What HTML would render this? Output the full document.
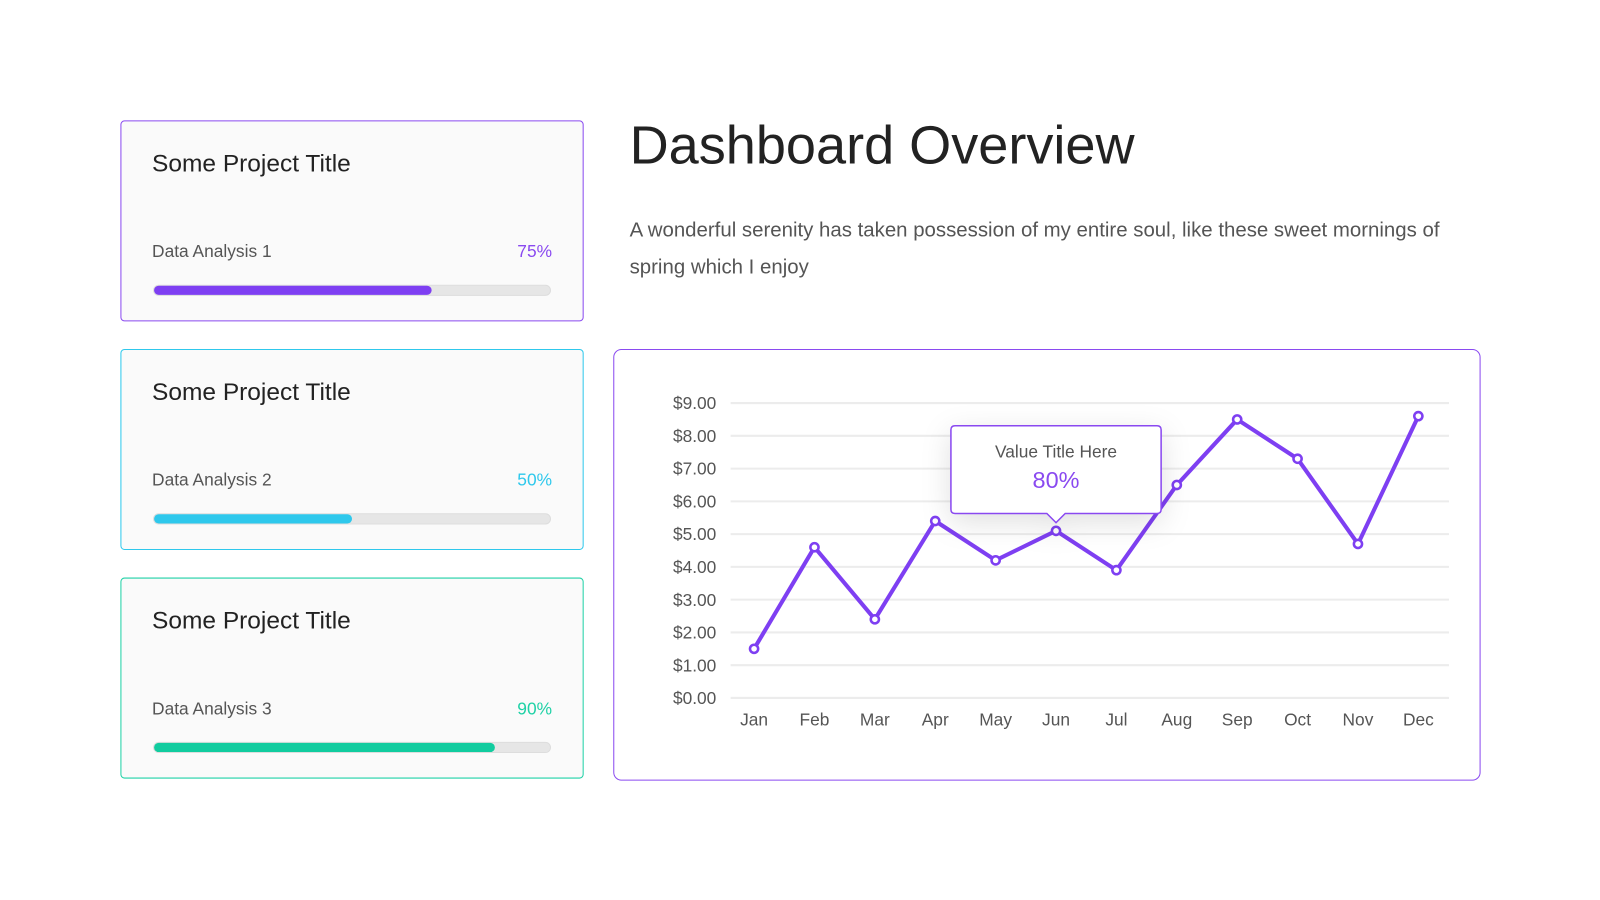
<!DOCTYPE html>
<html><head><meta charset="utf-8"><style>
body{margin:0;width:1600px;height:900px;background:#fff;font-family:"Liberation Sans",sans-serif;overflow:hidden}
#wrap{position:absolute;left:0;top:0;width:1568px;height:882px;transform:scale(1.0204);transform-origin:0 0}
.card{position:absolute;left:118px;width:454px;height:197px;background:#fafafa;border:1.5px solid;border-radius:4px;box-sizing:border-box}
.card h3{position:absolute;left:30px;top:28px;margin:0;font-weight:normal;font-size:24px;color:#222}
.lbl{position:absolute;left:30px;top:118px;font-size:17px;color:#555}
.pct{position:absolute;right:30px;top:118px;font-size:17px}
.track{position:absolute;left:31px;top:160px;width:390px;height:11px;background:#e6e6e6;border-radius:6px;border:1px solid #ddd;box-sizing:border-box}
.fill{height:100%;border-radius:6px}
</style></head><body>
<div id="wrap">
<div class="card" style="top:118px;border-color:#8a4af0">
<h3>Some Project Title</h3>
<div class="lbl">Data Analysis 1</div>
<div class="pct" style="color:#8a4af0">75%</div>
<div class="track"><div class="fill" style="width:70%;background:#7e3ff2"></div></div></div>
<div class="card" style="top:342px;border-color:#2ec8ec">
<h3>Some Project Title</h3>
<div class="lbl">Data Analysis 2</div>
<div class="pct" style="color:#2ec8ec">50%</div>
<div class="track"><div class="fill" style="width:50%;background:#2ec8ec"></div></div></div>
<div class="card" style="top:566px;border-color:#1fd1a6">
<h3>Some Project Title</h3>
<div class="lbl">Data Analysis 3</div>
<div class="pct" style="color:#1fd1a6">90%</div>
<div class="track"><div class="fill" style="width:86%;background:#11cc9f"></div></div></div>
<div style="position:absolute;left:617px;top:112px;font-size:53px;color:#222">Dashboard Overview</div>
<div style="position:absolute;left:617px;top:208px;width:850px;font-size:20px;line-height:36px;color:#555">A wonderful serenity has taken possession of my entire soul, like these sweet mornings of spring which I enjoy</div>
<div style="position:absolute;left:601px;top:342px;width:850px;height:423px;border:1.5px solid #8a4af0;border-radius:8px;box-sizing:border-box"></div>
<svg id="chart" width="1568" height="882" style="position:absolute;left:0;top:0"></svg>
</div>
<script>
const months=["Jan","Feb","Mar","Apr","May","Jun","Jul","Aug","Sep","Oct","Nov","Dec"];
const values=[1.5,4.6,2.4,5.4,4.2,5.1,3.9,6.5,8.5,7.3,4.7,8.6];
const yTicks=[0,1,2,3,4,5,6,7,8,9];
const tipIndex=5;
const tipTitle="Value Title Here",tipValue="80%";
const NS="http://www.w3.org/2000/svg",svg=document.getElementById('chart');
const x=i=>739+i*(1390-739)/11, y=v=>684-v*(684-395)/9;
function mk(t,a,p){const e=document.createElementNS(NS,t);for(const k in a)e.setAttribute(k,a[k]);(p||svg).appendChild(e);return e;}
yTicks.forEach(v=>{
const l=mk('line',{x1:716,x2:1420,y1:y(v),y2:y(v),stroke:'#ececec','stroke-width':2});


const t=mk('text',{x:702,y:y(v)+6,'text-anchor':'end','font-size':17,fill:'#555','font-family':'Liberation Sans'});
t.textContent='$'+v.toFixed(2);


});
months.forEach((m,i)=>{
const t=mk('text',{x:x(i),y:711,'text-anchor':'middle','font-size':17,fill:'#555','font-family':'Liberation Sans'});
t.textContent=m;


});
const defs=mk('defs',{});
const f=mk('filter',{id:'sh',x:'-50%',y:'-50%',width:'200%',height:'200%'},defs);
mk('feDropShadow',{dx:0,dy:8,stdDeviation:14,'flood-color':'#000','flood-opacity':0.12},f);
const line=mk('polyline',{points:values.map((v,i)=>x(i)+','+y(v)).join(' '),fill:'none',stroke:'#7e3ff2','stroke-width':4,'stroke-linejoin':'round'});


values.forEach((v,i)=>{
const c=mk('circle',{cx:x(i),cy:y(v),r:4,fill:'#fff',stroke:'#7e3ff2','stroke-width':2.5});


});
const tx=x(tipIndex),ty=y(values[tipIndex]);
const g=mk('g',{filter:'url(#sh)'});


const L=tx-103,R=tx+103,T=ty-103,B=ty-17;
mk('path',{d:`M${L+4},${T} H${R-4} Q${R},${T} ${R},${T+4} V${B-4} Q${R},${B} ${R-4},${B} H${tx+9} L${tx},${B+9} L${tx-9},${B} H${L+4} Q${L},${B} ${L},${B-4} V${T+4} Q${L},${T} ${L+4},${T}Z`,fill:'#fff',stroke:'#8a4af0','stroke-width':1.5},g);
const t1=mk('text',{x:tx,y:T+31,'text-anchor':'middle','font-size':17,fill:'#555','font-family':'Liberation Sans'});
t1.textContent=tipTitle;


const t2=mk('text',{x:tx,y:T+61,'text-anchor':'middle','font-size':23,fill:'#8a4af0','font-family':'Liberation Sans'});
t2.textContent=tipValue;


</script>
</body></html>
